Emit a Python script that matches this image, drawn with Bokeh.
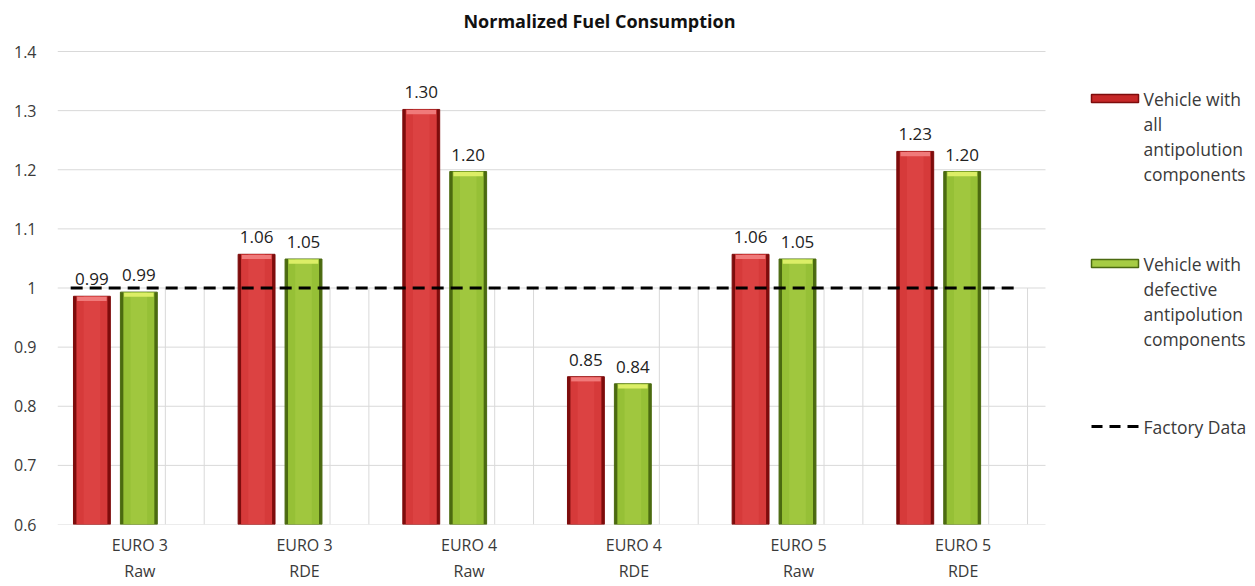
from bokeh.plotting import figure
from bokeh.models import Range1d, FixedTicker, ColumnDataSource
from bokeh.core.properties import value
from bokeh.embed import file_html
from bokeh.resources import INLINE

# ---------------- data ----------------
categories = ["EURO 3\nRaw", "EURO 3\nRDE", "EURO 4\nRaw", "EURO 4\nRDE", "EURO 5\nRaw", "EURO 5\nRDE"]
all_components = [0.986, 1.057, 1.302, 0.850, 1.057, 1.231]
defective_components = [0.993, 1.049, 1.197, 0.838, 1.049, 1.197]
factory_data = [1.0, 1.0, 1.0, 1.0, 1.0, 1.0]
y_ticks = [0.6, 0.7, 0.8, 0.9, 1.0, 1.1, 1.2, 1.3, 1.4]
series_names = ["Vehicle with\nall\nantipolution\ncomponents",
                "Vehicle with\ndefective\nantipolution\ncomponents",
                "Factory Data"]
title = "Normalized Fuel Consumption"

FONT = "Open Sans"
TXT = "#3a3a3a"
GRID = "#d9d9d9"

n = len(categories)
idx = list(range(n))
base = y_ticks[0]

# ---------------- layout (picture pixels) ----------------
CANVAS_W, CANVAS_H = 1255, 586
PLOT_L, PLOT_R = 57, 1045          # category area
FRAME_R = CANVAS_W                 # frame extends under the legend
FRAME_T = 0                        # frame extends under the title
PLOT_T, PLOT_B = 51, 524           # value axis 1.4 .. 0.6
XPX = (PLOT_R - PLOT_L) / n
YPX = (PLOT_B - PLOT_T) / (y_ticks[-1] - y_ticks[0])


def dx(px):
    return (px - PLOT_L) / XPX


def dy(py):
    return y_ticks[-1] - (py - PLOT_T) / YPX


x_end = dx(FRAME_R)
y_end = dy(FRAME_T)

p = figure(width=CANVAS_W, height=CANVAS_H, x_range=Range1d(0, x_end), y_range=Range1d(base, y_end),
           output_backend="svg", toolbar_location=None,
           min_border_left=PLOT_L, min_border_right=0, min_border_top=0,
           min_border_bottom=CANVAS_H - PLOT_B)
p.outline_line_color = None
p.background_fill_color = "white"
p.border_fill_color = "white"
p.xgrid.grid_line_color = None
p.ygrid.grid_line_color = None

# y axis
p.yaxis.ticker = FixedTicker(ticks=y_ticks)
p.yaxis.major_label_overrides = {1: "1"}
p.yaxis.axis_line_color = None
p.yaxis.major_tick_line_color = None
p.yaxis.minor_tick_line_color = None
p.yaxis.major_tick_in = 0
p.yaxis.major_tick_out = 0
p.yaxis.major_label_standoff = 21
p.yaxis.major_label_text_font = FONT
p.yaxis.major_label_text_font_size = "16px"
p.yaxis.major_label_text_color = TXT

# x axis
centers = [i + 0.5 for i in idx]
p.xaxis.ticker = FixedTicker(ticks=centers)
p.xaxis.major_label_overrides = {c: lab for c, lab in zip(centers, categories)}
p.xaxis.axis_line_color = None
p.xaxis.major_tick_line_color = None
p.xaxis.minor_tick_line_color = None
p.xaxis.major_tick_in = 0
p.xaxis.major_tick_out = 0
p.xaxis.major_label_standoff = 9
p.xaxis.major_label_text_font = FONT
p.xaxis.major_label_text_font_size = "16px"
p.xaxis.major_label_text_color = TXT
p.xaxis.major_label_text_line_height = 1.22

# horizontal gridlines over the category area only
p.segment(x0=[0] * len(y_ticks), x1=[n] * len(y_ticks), y0=y_ticks, y1=y_ticks,
          line_color=GRID, line_width=1)

# title
p.text(x=[dx(599)], y=[dy(20)], text=[title], text_align="center", text_baseline="middle",
       text_font=value(FONT), text_font_size="18px", text_font_style="bold", text_color="#111111")

# bar layout (fractions of a category slot)
OFF_RED, OFF_GREEN, OFF_FACT = 0.209, 0.494, 0.773
W = 0.224
W_FACT = 0.236

# factory data "bars" (transparent, light edges)
xf = [i + OFF_FACT for i in idx]
for s in (-1, 1):
    p.segment(x0=[x + s * W_FACT / 2 for x in xf], x1=[x + s * W_FACT / 2 for x in xf],
              y0=[base] * n, y1=factory_data, line_color=GRID, line_width=1)


def draw_bars(xs, vals, dark, mid, light, top):
    p.vbar(x=xs, width=W, bottom=base, top=vals, fill_color=dark, line_color=dark, line_width=1)
    p.vbar(x=xs, width=W * 0.84, bottom=base, top=vals, fill_color=mid, line_color=None)
    p.vbar(x=xs, width=W * 0.45, bottom=base, top=vals, fill_color=light, line_color=None, fill_alpha=0.6)
    p.vbar(x=xs, width=W * 0.8, bottom=[v - 0.008 for v in vals], top=[v - 0.001 for v in vals],
           fill_color=top, line_color=None)


xr = [i + OFF_RED for i in idx]
xg = [i + OFF_GREEN for i in idx]
draw_bars(xr, all_components, "#7e0c0c", "#d63a3a", "#e04848", "#f07a7a")
draw_bars(xg, defective_components, "#4b6a10", "#96c036", "#a6cc44", "#dcee66")

# data labels
for xs, vals in ((xr, all_components), (xg, defective_components)):
    src = ColumnDataSource(dict(x=xs, y=vals, t=["%.2f" % v for v in vals]))
    p.text(x="x", y="y", text="t", source=src, text_align="center", text_baseline="alphabetic",
           y_offset=-17, text_font=value(FONT), text_font_size="17px", text_color="#222222")

# factory data dashed line
p.line(x=[0.08, n - 0.18], y=[factory_data[0], factory_data[-1]], line_color="black",
       line_width=3, line_dash="12 7")

# ---------------- legend ----------------
sw_x0, sw_x1 = dx(1091), dx(1138)
text_x = dx(1143)
item_py = [98, 263, 426]
line_step = 25
half_h = 4 / YPX

p.quad(left=[sw_x0], right=[sw_x1], top=[dy(item_py[0]) + half_h], bottom=[dy(item_py[0]) - half_h],
       fill_color="#c62828", line_color="#7e0c0c", line_width=1.5)
p.quad(left=[sw_x0], right=[sw_x1], top=[dy(item_py[1]) + half_h], bottom=[dy(item_py[1]) - half_h],
       fill_color="#a6cc44", line_color="#4b6a10", line_width=1.5)
p.line(x=[sw_x0, sw_x1], y=[dy(item_py[2])] * 2, line_color="black", line_width=3, line_dash="11 7")

for name, py in zip(series_names, item_py):
    lines = name.split("\n")
    p.text(x=[text_x] * len(lines), y=[dy(py + k * line_step) for k in range(len(lines))], text=lines,
           text_align="left", text_baseline="middle", text_font=value(FONT),
           text_font_size="17.5px", text_color=TXT)

open("out.html", "w").write(file_html(p, INLINE))
